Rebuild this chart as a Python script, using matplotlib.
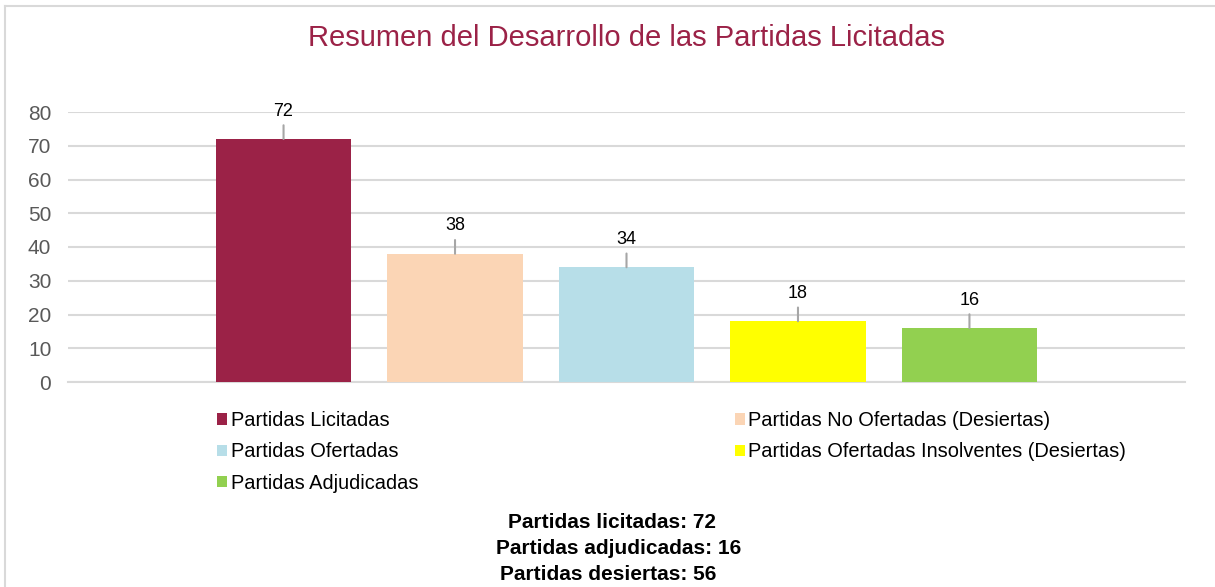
import matplotlib.pyplot as plt
from matplotlib.lines import Line2D

plt.rcParams['font.family'] = ['Liberation Sans', 'DejaVu Sans']

series = ["Partidas Licitadas", "Partidas No Ofertadas (Desiertas)",
          "Partidas Ofertadas", "Partidas Ofertadas Insolventes (Desiertas)",
          "Partidas Adjudicadas"]
values = [72, 38, 34, 18, 16]
colors = ['#9B2247', '#FBD5B5', '#B7DEE8', '#FFFF00', '#92D050']
summary = ["Partidas licitadas: 72", "Partidas adjudicadas: 16", "Partidas desiertas: 56"]

fig = plt.figure(figsize=(12.15, 5.87), dpi=100)
ax = fig.add_axes([68 / 1215, 1 - 382 / 587, 1117 / 1215, 270 / 587])

bars = []
for i, (name, v, c) in enumerate(zip(series, values, colors)):
    b = ax.bar(i, v, width=0.79, color=c, label=name, zorder=3)
    bars.append(b)
    ax.annotate(str(v), xy=(i, v), xytext=(0, 20), textcoords='offset points',
                ha='center', va='center', fontsize=13, color='black',
                arrowprops=dict(arrowstyle='-', color='#A6A6A6', lw=1.5,
                                shrinkA=2, shrinkB=0), zorder=4)

ax.set_xlim(-1.257, 5.257)
ax.set_ylim(0, 80)
ax.set_yticks(range(0, 81, 10))
ax.yaxis.grid(True, color='#D9D9D9', lw=1.5, zorder=0)
ax.set_xticks([])
ax.tick_params(axis='y', length=0, labelsize=15, labelcolor='#595959', pad=12)
for s in ['top', 'right', 'left']:
    ax.spines[s].set_visible(False)
ax.spines['bottom'].set_color('#D9D9D9')
ax.spines['bottom'].set_linewidth(1.5)

fig.text(627 / 1215, 1 - 38 / 587, "Resumen del Desarrollo de las Partidas Licitadas",
         ha='center', va='center', fontsize=21, color='#9B2247')

order = [0, 2, 4, 1, 3]
leg = fig.legend([bars[k] for k in order], [series[k] for k in order], ncol=2,
                 loc='upper left', bbox_to_anchor=(217 / 1215, 1 - 411 / 587),
                 frameon=False, fontsize=14.4, handlelength=0.5, handleheight=0.5,
                 handletextpad=0.2, columnspacing=15.8, labelspacing=0.62,
                 borderaxespad=0, borderpad=0)

for txt, x, y in zip(summary, [612, 619, 608], [523, 549, 575]):
    fig.text(x / 1215, 1 - y / 587, txt, ha='center', va='center',
             fontsize=15, fontweight='bold', color='black')

fig.add_artist(Line2D([5 / 1215, 5 / 1215], [0, 1 - 6 / 587], color='#D9D9D9', lw=1.5))
fig.add_artist(Line2D([5 / 1215, 1], [1 - 6 / 587, 1 - 6 / 587], color='#D9D9D9', lw=1.5))

fig.savefig('out.png', dpi=100)
